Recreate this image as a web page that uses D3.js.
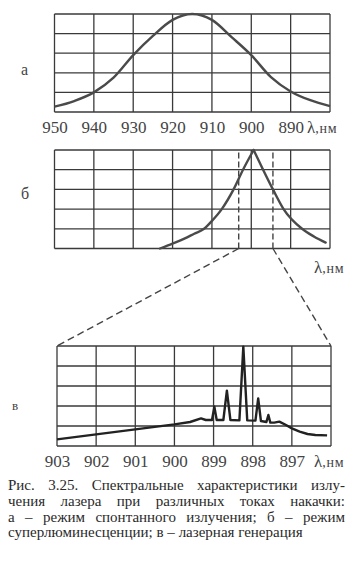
<!DOCTYPE html>
<html>
<head>
<meta charset="utf-8">
<script src="https://cdn.jsdelivr.net/npm/d3@7"></script>
<style>
  html, body { margin: 0; padding: 0; background: #fff; }
  svg { display: block; }
  svg text { font-family: "Liberation Serif", "DejaVu Serif", serif !important; }
</style>
</head>
<body>
<svg id="chart" width="359" height="569"></svg>
<script>
// ---------- data ----------
// panel а: spontaneous emission
const waveA = [950, 945, 940, 935, 930, 925, 920, 915, 910, 905, 900, 895, 890, 885, 880];
const valA  = [0.27, 0.56, 1.0, 1.75, 2.9, 3.88, 4.7, 5.0, 4.7, 3.82, 2.9, 1.78, 1.05, 0.6, 0.3];
const ticksA = [950, 940, 930, 920, 910, 900, 890];
const gridA = [950, 940, 930, 920, 910, 900, 890, 880];

// panel б: superluminescence
const waveB = [923.2, 920, 917, 914.5, 912, 910, 907.5, 904.5, 902.1, 899.4, 897, 894.5, 891.8, 887.1, 884, 881.1];
const valB  = [0.0, 0.25, 0.5, 0.75, 1.0, 1.4, 2.0, 3.0, 4.0, 5.0, 4.0, 3.0, 2.0, 1.0, 0.6, 0.3];
const zoomBounds = [903.2, 894.5];

// panel в: lasing
const waveC = [903, 902, 901, 900, 899.6, 899.32, 899.2, 899.04, 898.98, 898.92, 898.75, 898.66, 898.57,
               898.34, 898.24, 898.14, 897.93, 897.86, 897.79, 897.65, 897.6, 897.55, 897.45, 897.32,
               897.15, 897.0, 896.8, 896.6, 896.4, 896.1];
const valC  = [0.33, 0.58, 0.83, 1.08, 1.2, 1.38, 1.3, 1.3, 1.97, 1.3, 1.3, 2.77, 1.3,
               1.28, 4.97, 1.28, 1.27, 2.38, 1.25, 1.2, 1.55, 1.17, 1.17, 1.22,
               1.05, 0.88, 0.72, 0.6, 0.55, 0.53];
const ticksC = [903, 902, 901, 900, 899, 898, 897];
const gridC = [903, 902, 901, 900, 899, 898, 897, 896];

const rows = [0, 1, 2, 3, 4, 5];
const axisUnit = "нм";
const panelNames = ["а", "б", "в"];
const captionLines = [
  "Рис. 3.25. Спектральные характеристики излу-",
  "чения лазера при различных токах накачки:",
  "а – режим спонтанного излучения; б – режим",
  "суперлюминесценции; в – лазерная генерация"
];

// ---------- drawing ----------
const svg = d3.select("#chart");
const gridColor = "#3a3a3a";
const textColor = "#444";
const serif = '"Liberation Serif", "DejaVu Serif", serif';

const xA = d3.scaleLinear().domain([950, 880]).range([54.5, 330]);
const yA = d3.scaleLinear().domain([0, 5]).range([112, 14]);
const xB = d3.scaleLinear().domain([950, 880]).range([54.5, 330]);
const yB = d3.scaleLinear().domain([0, 5]).range([248.5, 150]);
const xC = d3.scaleLinear().domain([903, 896]).range([57, 331]);
const yC = d3.scaleLinear().domain([0, 5]).range([446, 346]);

function drawGrid(g, x, y, gridX) {
  g.selectAll("line.v").data(gridX).join("line")
    .attr("x1", d => x(d)).attr("x2", d => x(d))
    .attr("y1", y(0)).attr("y2", y(5))
    .attr("stroke", gridColor).attr("stroke-width", 1.3);
  g.selectAll("line.h").data(rows).join("line")
    .attr("x1", x(gridX[0])).attr("x2", x(gridX[gridX.length - 1]))
    .attr("y1", d => y(d)).attr("y2", d => y(d))
    .attr("stroke", gridColor).attr("stroke-width", 1.3);
}

function drawAxis(g, x, y, ticks) {
  const ax = g.append("g")
    .attr("transform", `translate(0,${y(0)})`)
    .call(d3.axisBottom(x).tickValues(ticks).tickSize(0).tickPadding(9).tickFormat(d3.format("d")));
  ax.attr("font-family", serif).attr("font-size", 17);
  ax.select(".domain").remove();
  ax.selectAll("text").attr("fill", textColor);
}

function unitLabel(x0, baseline) {
  const t = svg.append("text").attr("x", x0).attr("y", baseline).attr("fill", textColor)
    .attr("font-family", serif);
  t.append("tspan").attr("font-size", 17).text("λ");
  t.append("tspan").attr("font-size", 14).attr("letter-spacing", "0.8").text("," + axisUnit);
}

// panel а
const gA = svg.append("g");
drawGrid(gA, xA, yA, gridA);
gA.append("path")
  .datum(waveA.map((w, i) => [w, valA[i]]))
  .attr("fill", "none").attr("stroke", "#4a4a4a").attr("stroke-width", 2.4)
  .attr("d", d3.line().x(d => xA(d[0])).y(d => yA(d[1])).curve(d3.curveMonotoneX));
drawAxis(gA, xA, yA, ticksA);
unitLabel(307, 133);

// panel б
const gB = svg.append("g");
drawGrid(gB, xB, yB, gridA);
gB.selectAll("line.zb").data(zoomBounds).join("line")
  .attr("x1", d => xB(d)).attr("x2", d => xB(d))
  .attr("y1", yB(0)).attr("y2", yB(5))
  .attr("stroke", "#444").attr("stroke-width", 1.4).attr("stroke-dasharray", "6,3");
const ptsB = waveB.map((w, i) => [w, valB[i]]);
const iMax = valB.indexOf(d3.max(valB));
const lineB = d3.line().x(d => xB(d[0])).y(d => yB(d[1])).curve(d3.curveMonotoneX);
[ptsB.slice(0, iMax + 1), ptsB.slice(iMax)].forEach(seg => {
  gB.append("path").datum(seg)
    .attr("fill", "none").attr("stroke", "#4a4a4a").attr("stroke-width", 2.4)
    .attr("stroke-linecap", "round")
    .attr("d", lineB);
});
unitLabel(314, 273);

// connecting dashed lines б -> в
const conn = [
  [[xB(zoomBounds[0]), yB(0)], [xC(903), yC(5)]],
  [[xB(zoomBounds[1]), yB(0)], [xC(896), yC(5)]]
];
svg.selectAll("line.conn").data(conn).join("line")
  .attr("x1", d => d[0][0]).attr("y1", d => d[0][1])
  .attr("x2", d => d[1][0]).attr("y2", d => d[1][1])
  .attr("stroke", "#444").attr("stroke-width", 1.4).attr("stroke-dasharray", "7,4");

// panel в
const gC = svg.append("g");
drawGrid(gC, xC, yC, gridC);
gC.append("path")
  .datum(waveC.map((w, i) => [w, valC[i]]))
  .attr("fill", "none").attr("stroke", "#222").attr("stroke-width", 2.4)
  .attr("stroke-linejoin", "round")
  .attr("d", d3.line().x(d => xC(d[0])).y(d => yC(d[1])));
drawAxis(gC, xC, yC, ticksC);
unitLabel(314, 467);

// panel letters
const letterPos = [[21, 75, 16], [21, 199, 16], [12, 410, 13]];
svg.selectAll("text.pl").data(panelNames).join("text")
  .attr("class", "pl")
  .attr("x", (d, i) => letterPos[i][0]).attr("y", (d, i) => letterPos[i][1])
  .attr("font-family", serif)
  .attr("font-size", (d, i) => letterPos[i][2])
  .attr("fill", textColor).text(d => d);

// caption, justified
const capLeft = 8, capRight = 345, capBase = [490, 506, 522, 537];
captionLines.forEach((line, li) => {
  const words = line.split(" ");
  const g = svg.append("g");
  const nodes = words.map(w => g.append("text").attr("y", capBase[li])
    .attr("font-family", serif).attr("font-size", 15).attr("fill", "#2a2a2a").text(w));
  const widths = nodes.map(n => n.node().getComputedTextLength());
  const total = d3.sum(widths);
  const justify = li < captionLines.length - 1;
  const gap = justify ? (capRight - capLeft - total) / (words.length - 1) : 3.8;
  let xPos = capLeft;
  nodes.forEach((n, i) => { n.attr("x", xPos); xPos += widths[i] + gap; });
});
</script>
</body>
</html>
